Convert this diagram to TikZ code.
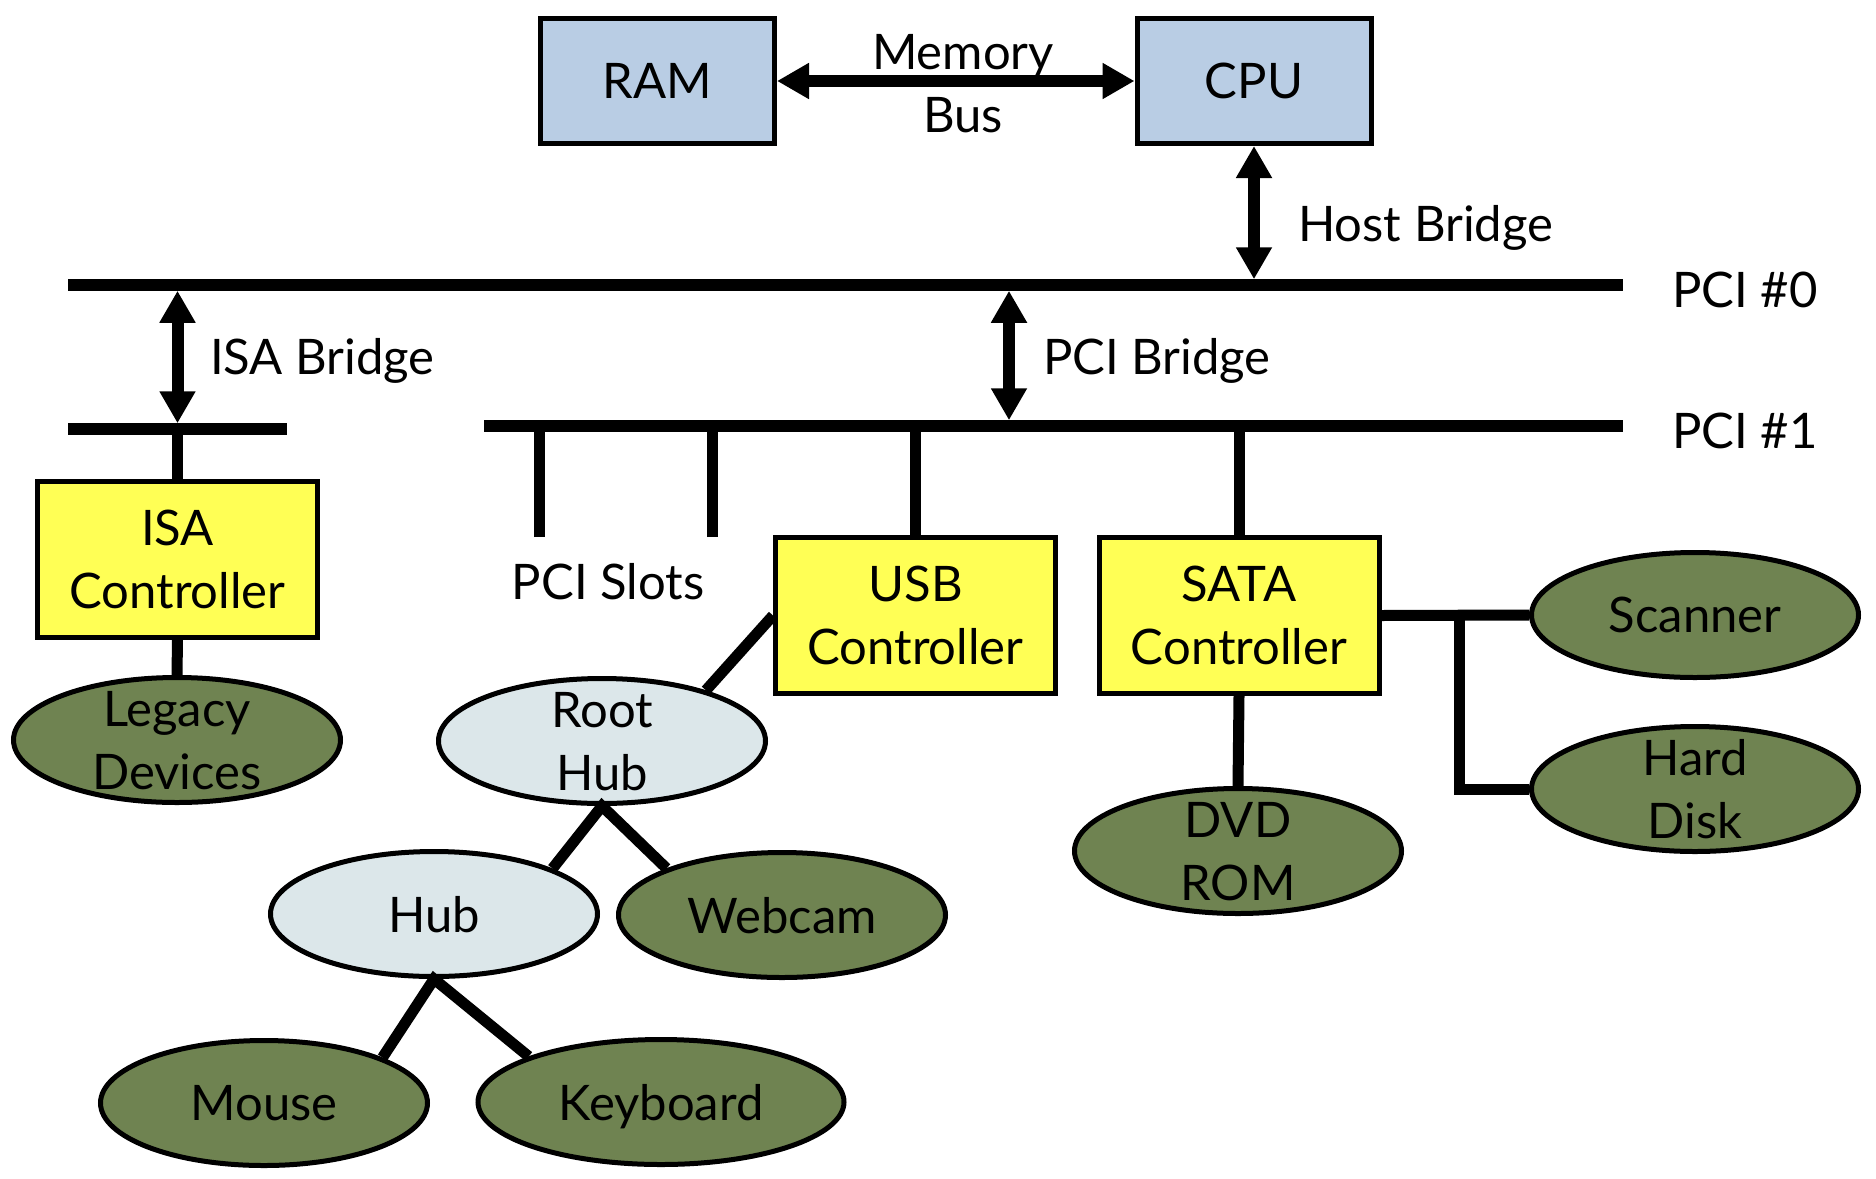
\documentclass[tikz,border=0pt]{standalone}
\usepackage{fontspec}
\setmainfont{Lato}
\usetikzlibrary{arrows.meta,shapes.geometric}
\definecolor{boxblue}{RGB}{185,205,228}
\definecolor{boxyellow}{RGB}{255,255,85}
\definecolor{devgreen}{RGB}{111,131,81}
\definecolor{hubgray}{RGB}{220,231,234}
\begin{document}
\begin{tikzpicture}[x=1pt,y=-1pt,
  every node/.style={font=\fontsize{49}{63}\selectfont},
  box/.style={draw, line width=5pt, rectangle, align=center, inner sep=0pt, text depth=0pt},
  cpubox/.style={box, fill=boxblue, minimum width=234pt, minimum height=125pt},
  ctlbox/.style={box, fill=boxyellow, minimum width=280pt, minimum height=156pt},
  oval/.style={draw, line width=5pt, ellipse, align=center, inner xsep=0pt, inner ysep=-12pt,
    text depth=0pt, minimum width=327pt, minimum height=125pt},
  dev/.style={oval, fill=devgreen},
  hubnode/.style={oval, fill=hubgray},
  bus/.style={line width=11.5pt},
  wire/.style={line width=11pt},
  biarrow/.style={line width=12pt, {Triangle[length=32pt,width=34pt]}-{Triangle[length=32pt,width=34pt]}},
  lbl/.style={anchor=base west, inner sep=0pt}]
\useasboundingbox (0,0) rectangle (1876,1178);

% buses
\coordinate (b0L) at (68,285);  \coordinate (b0R) at (1623,285);
\coordinate (biL) at (68,429);  \coordinate (biR) at (287,429);
\coordinate (b1L) at (484,426); \coordinate (b1R) at (1623,426);
\coordinate (pb) at (1009,285);
\coordinate (s1) at (539,537);
\coordinate (s2) at (712,537);

% nodes
\node[cpubox] (ram) at (657.5,81) {RAM};
\node[cpubox] (cpu) at (1254,81) {CPU};
\node[ctlbox] (isactl) at (177.5,559) {ISA\\Controller};
\node[ctlbox] (usb) at (915.5,615.5) {USB\\Controller};
\node[ctlbox] (sata) at (1239,615.5) {SATA\\Controller};

\node[dev] (legacy) at (177,740) {Legacy\\Devices};
\node[hubnode] (roothub) at (602,741) {Root\\Hub};
\node[hubnode] (hub) at (434,914) {Hub};
\node[dev] (webcam) at (782,915) {Webcam};
\node[dev] (mouse) at (264,1103) {Mouse};
\node[dev, minimum width=366pt] (keyboard) at (661,1102) {Keyboard};
\node[dev] (scanner) at (1695,615) {Scanner};
\node[dev] (harddisk) at (1695,789) {Hard\\Disk};
\node[dev] (dvd) at (1238,851) {DVD\\ROM};

\coordinate (br) at (1459,615.5);

% bus bars
\draw[bus] (b0L) -- (b0R);
\draw[bus] (biL) -- (biR);
\draw[bus] (b1L) -- (b1R);

% bridges
\draw[biarrow] (ram.east) -- (cpu.west);
\draw[biarrow] (cpu.south) -- ([yshift=5.75pt]cpu.south |- b0R);
\draw[biarrow] ([yshift=-5.75pt]isactl.north |- b0L) -- ([yshift=5.75pt]isactl.north |- biL);
\draw[biarrow] ([yshift=-5.75pt]pb) -- ([yshift=5.75pt]pb |- b1L);

% wires
\draw[wire] (isactl.north) -- (isactl.north |- biL);
\draw[wire] (isactl.south) -- (legacy.north);
\draw[wire] (s1) -- (s1 |- b1L);
\draw[wire] (s2) -- (s2 |- b1L);
\draw[wire] (usb.north) -- (usb.north |- b1L);
\draw[wire] (sata.north) -- (sata.north |- b1L);
\draw[wire] (sata.south) -- (dvd.north);
\draw[wire] (sata.east) -- (scanner.west);
\draw[wire] (br) |- (harddisk.west);
\draw[wire] (usb.west) -- (roothub.26);
\draw[wire] (hub.21) -- (roothub.south) -- (webcam.158);
\draw[wire] (mouse.21) -- (hub.south) -- (keyboard.161);

% labels
\node[align=center, inner sep=0pt] (memlbl) at (963,84) {Memory\\Bus};
\node[lbl] (hostlbl) at (1298,241) {Host Bridge};
\node[lbl] (pci0lbl) at (1672,307) {PCI \#0};
\node[lbl] (pci1lbl) at (1672,448) {PCI \#1};
\node[lbl] (isalbl) at (210,374) {ISA Bridge};
\node[lbl] (pcilbl) at (1043,374) {PCI Bridge};
\node[anchor=base, inner sep=0pt] (slotlbl) at (608,599) {PCI Slots};
\end{tikzpicture}
\end{document}
